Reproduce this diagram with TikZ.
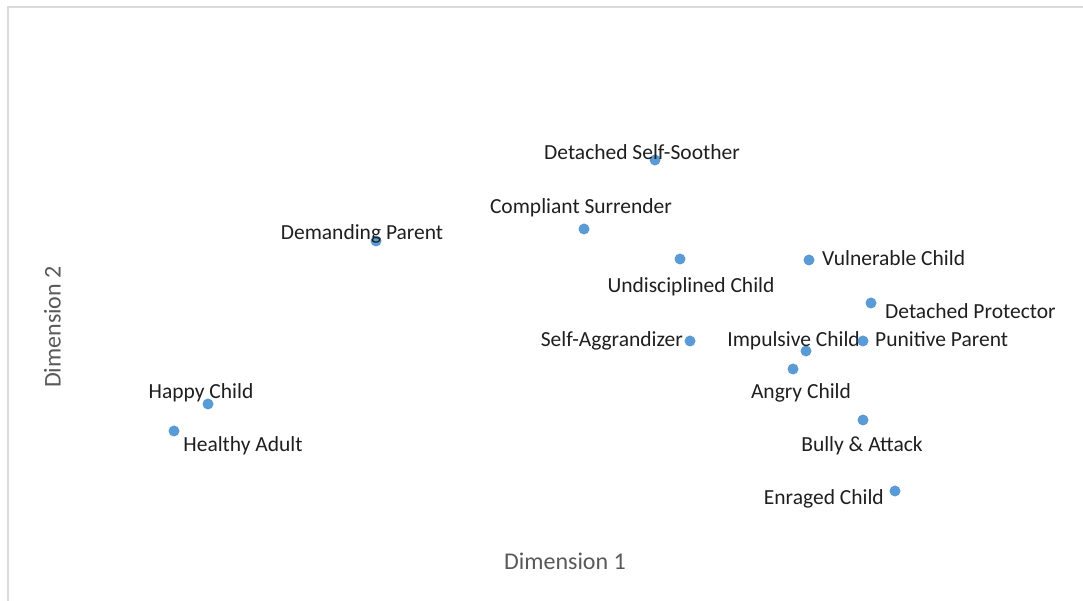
\documentclass[tikz,border=0pt]{standalone}
\usepackage{fontspec}
\setmainfont{Carlito}
\definecolor{dotblue}{HTML}{5B9BD5}
\definecolor{axisgray}{HTML}{595959}
\definecolor{framegray}{HTML}{D9D9D9}
\begin{document}
\begin{tikzpicture}[x=1pt,y=1pt,
  dot/.style={circle,fill=dotblue,inner sep=0pt,minimum size=11pt},
  lab/.style={font=\fontsize{21.5}{25}\selectfont,text=black!88,inner sep=0pt,text height=0.7em,text depth=0.2em},
  axt/.style={font=\fontsize{24}{28}\selectfont,text=axisgray,inner sep=0pt,text height=0.7em,text depth=0.2em}]
\useasboundingbox (0,0) rectangle (1083,601);
\fill[white] (0,0) rectangle (1083,601);
\draw[framegray,line width=1.5pt] (8,-5) -- (8,594) -- (1090,594);
% points (y = 601 - pixel y)
\node[dot] (dss) at (655,441) {};
\node[lab] (ldss) at (642,444) {Detached Self-Soother};
\node[dot] (cs) at (584,372) {};
\node[lab] (lcs) at (581,390) {Compliant Surrender};
\node[dot] (dp) at (376,360) {};
\node[lab] (ldp) at (362,364) {Demanding Parent};
\node[dot] (uc) at (680,342) {};
\node[lab] (luc) at (691,311) {Undisciplined Child};
\node[dot] (vc) at (809,341) {};
\node[lab,anchor=west] (lvc) at (822,338) {Vulnerable Child};
\node[dot] (dpr) at (871,298) {};
\node[lab,anchor=west] (ldpr) at (885,285) {Detached Protector};
\node[dot] (sa) at (690,260) {};
\node[lab,anchor=east] (lsa) at (683,257) {Self-Aggrandizer};
\node[dot] (ic) at (806,250) {};
\node[lab,anchor=east] (lic) at (860,257) {Impulsive Child};
\node[dot] (pp) at (863,260) {};
\node[lab,anchor=west] (lpp) at (875,257) {Punitive Parent};
\node[dot] (ac) at (793,232) {};
\node[lab] (lac) at (801,205) {Angry Child};
\node[dot] (ba) at (863,181) {};
\node[lab] (lba) at (862,152) {Bully \& Attack};
\node[dot] (ec) at (895,110) {};
\node[lab,anchor=east] (lec) at (884,99) {Enraged Child};
\node[dot] (hc) at (208,197) {};
\node[lab] (lhc) at (201,205) {Happy Child};
\node[dot] (ha) at (174,170) {};
\node[lab] (lha) at (243,152) {Healthy Adult};
% axis titles
\node[axt] (xt) at (565,34) {Dimension 1};
\node[axt,rotate=90] (yt) at (58,274) {Dimension 2};
\end{tikzpicture}
\end{document}
